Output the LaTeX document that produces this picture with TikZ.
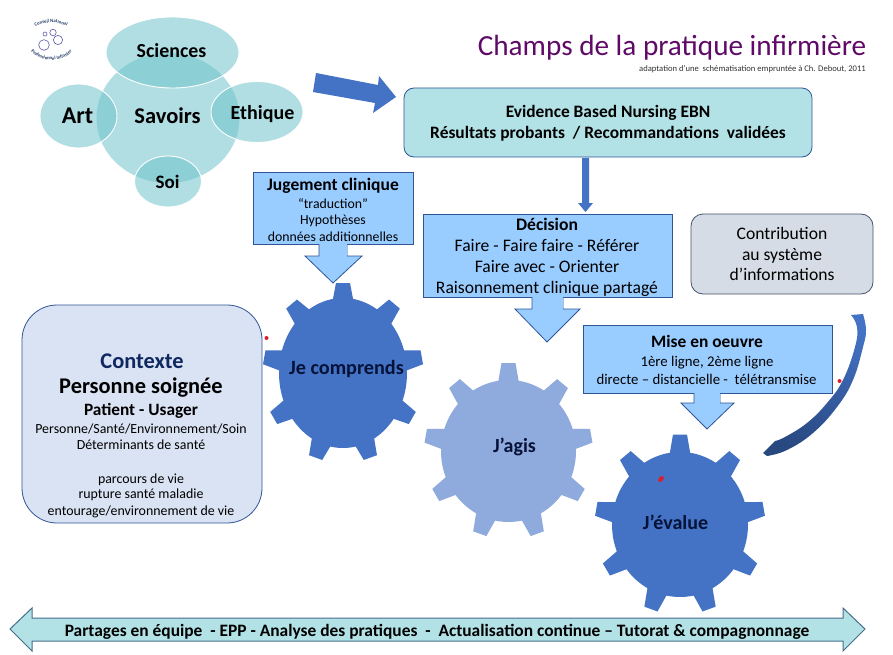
\documentclass[tikz,border=0pt]{standalone}
\usepackage{fontspec}
\setmainfont{Carlito}
\usetikzlibrary{decorations.text}
\definecolor{teal}{RGB}{107,194,202}
\definecolor{boxteal}{RGB}{178,226,230}
\definecolor{callblue}{RGB}{153,204,255}
\definecolor{edgeblue}{RGB}{47,85,151}
\definecolor{gearblue}{RGB}{68,114,196}
\definecolor{gearlight}{RGB}{143,170,220}
\definecolor{ctxfill}{RGB}{218,227,243}
\definecolor{grayfill}{RGB}{214,220,229}
\definecolor{grayedge}{RGB}{68,84,106}
\definecolor{navy}{RGB}{16,40,96}
\definecolor{titlepurple}{RGB}{96,10,104}
\definecolor{gearink}{RGB}{6,18,56}
\definecolor{reddot}{RGB}{222,28,44}
\definecolor{arrowedge}{RGB}{72,110,140}
\newcommand\fs[1]{\fontsize{#1}{#1}\selectfont}
\newcommand\drawgear[7]{%
  \fill[#7] (#1,#2) ellipse [x radius=#3, y radius=#4];
  \foreach \a in {0,40,...,320}{%
    \fill[#7]
      ({#1+0.92*#3*sin(\a)-11*cos(\a)},{#2-0.92*#4*cos(\a)-11*sin(\a)}) --
      ({#1+#5*sin(\a)-7*cos(\a)},{#2-#6*cos(\a)-7*sin(\a)}) --
      ({#1+#5*sin(\a)+7*cos(\a)},{#2-#6*cos(\a)+7*sin(\a)}) --
      ({#1+0.92*#3*sin(\a)+11*cos(\a)},{#2-0.92*#4*cos(\a)+11*sin(\a)}) -- cycle;
  }%
}
\tikzset{
  petal/.style={fill=teal,fill opacity=.526,draw=white,line width=.9pt},
  ln/.style={inner sep=0pt,anchor=base,text=black,yshift=-1pt},
  callout/.style={fill=callblue,draw=edgeblue,line width=.8pt,line join=miter},
  dot/.style={fill=reddot},
}
\begin{document}
\begin{tikzpicture}[x=1pt,y=-1pt]
\useasboundingbox (0,0) rectangle (893,655);
\fill[white] (0,0) rectangle (893,655);
% logo
\draw[gray!70!blue,line width=.6pt] (44,45) circle (5.3) (58,40) circle (4.6) (53,32.5) circle (3.2) (45,34) circle (2);
\path[decorate,decoration={text along path,text={|\fs{4.8}\bfseries\color{edgeblue!70!black}|Conseil National},text align=center}]
  (30,31) .. controls (38,21) and (62,19) .. (72,31);
\path[decorate,decoration={text along path,text={|\fs{4.8}\bfseries\color{edgeblue!70!black}|Professionnel Infirmier},text align=center}]
  (27,45) .. controls (34,64) and (68,66) .. (76,45);
% knowledge cluster
\draw[fill=teal,fill opacity=.526,draw=none] (168,118) ellipse [x radius=71.5,y radius=65];
\draw[petal] (172.5,52.5) ellipse [x radius=66.5,y radius=35.5];
\draw[petal] (78.5,116) ellipse [x radius=38.5,y radius=32];
\draw[petal] (257,112) ellipse [x radius=46,y radius=30.5];
\draw[petal] (168,181.5) ellipse [x radius=33.5,y radius=25.5];
\node[ln,font=\bfseries\fs{19.9}] (sci) at (171.5,57) {Sciences};
\node[ln,font=\bfseries\fs{22.5}] (sav) at (167.5,123) {Savoirs};
\node[ln,font=\bfseries\fs{24}] (art) at (77.5,123) {Art};
\node[ln,font=\bfseries\fs{20}] (eth) at (262.5,119) {Ethique};
\node[ln,font=\bfseries\fs{19}] (soi) at (167.5,188) {Soi};
% title
\node[ln,text=titlepurple,font=\fs{29.2}] (title) at (672,55) {Champs de la pratique infirmière};
\node[ln,anchor=base east,text=black!80,font=\fs{8.6}] (sub) at (866,71) {adaptation d’une\ \ schématisation empruntée à Ch. Debout, 2011};
% arrow to EBN
\fill[gearblue] (316,73) -- (378,85) -- (379,76) -- (396,97) -- (373,113) -- (375,103) -- (313,92) -- cycle;
% EBN
\node[draw=edgeblue,fill=boxteal,line width=.8pt,rounded corners=10pt,minimum width=408pt,minimum height=69pt,inner sep=0pt] (ebnbox) at (608,122.5) {};
\node[ln,font=\bfseries\fs{17.4}] (ebna) at (608,117) {Evidence Based Nursing EBN};
\node[ln,font=\bfseries\fs{17.4}] (ebnb) at (608,138) {Résultats probants\ \ / Recommandations\ \ validées};
% arrow ebn to decision
\fill[gearblue] (582,158) -- (589,158) -- (589,203) -- (593,203) -- (585.5,212) -- (578,203) -- (582,203) -- cycle;
% callouts
\draw[callout] (253,172) rectangle (413,244);
\draw[callout] (319,244) -- (319,256) -- (305,256) -- (333,283) -- (362,256) -- (347,256) -- (347,244);
\fill[callblue] (319.5,243) rectangle (346.5,257);
\node[ln,font=\bfseries\fs{17.5}] (juga) at (333,189) {Jugement clinique};
\node[ln,font=\fs{13.8}] (jugb) at (333,207) {“traduction”};
\node[ln,font=\fs{13.8}] (jugc) at (333,223) {Hypothèses};
\node[ln,font=\fs{13.8}] (jugd) at (333,240) {données additionnelles};
\draw[callout] (423,214) rectangle (672,297);
\draw[callout] (532,297) -- (532,309) -- (515,309) -- (547,342) -- (580,309) -- (563,309) -- (563,297);
\fill[callblue] (532.5,296) rectangle (562.5,310);
\node[ln,font=\bfseries\fs{17.6}] (deca) at (547,229) {Décision};
\node[ln,font=\fs{17.6}] (decb) at (547,250) {Faire - Faire faire - Référer};
\node[ln,font=\fs{17.6}] (decc) at (547,271) {Faire avec - Orienter};
\node[ln,font=\fs{17.6}] (decd) at (547,292) {Raisonnement clinique partagé};
\draw[callout] (583,325) rectangle (832,393);
\draw[callout] (694,393) -- (694,403) -- (681,403) -- (707,429) -- (734,403) -- (720,403) -- (720,393);
\fill[callblue] (694.5,392) rectangle (719.5,404);
\node[ln,font=\bfseries\fs{17.4}] (misa) at (707,346) {Mise en oeuvre};
\node[ln,font=\fs{14.8}] (misb) at (707,365) {1ère ligne, 2ème ligne};
\node[ln,font=\fs{14.8}] (misc) at (706.5,383) {directe – distancielle -\ \ télétransmise};
% contribution
\node[draw=grayedge,fill=grayfill,line width=.8pt,rounded corners=12pt,minimum width=182pt,minimum height=80pt,inner sep=0pt] (contribbox) at (782,254) {};
\node[ln,font=\fs{17.6}] (cona) at (782,238) {Contribution};
\node[ln,font=\fs{17.6}] (conb) at (782,259) {au système};
\node[ln,font=\fs{17.6}] (conc) at (782,279) {d’informations};
% context
\node[draw=edgeblue,fill=ctxfill,line width=.8pt,rounded corners=35pt,minimum width=240pt,minimum height=218pt,inner sep=0pt] (ctxbox) at (142,414) {};
\node[ln,text=navy,font=\bfseries\fs{22.4}] (ctxa) at (142,367) {Contexte};
\node[ln,font=\bfseries\fs{22.4}] (ctxb) at (141,392) {Personne soignée};
\node[ln,font=\bfseries\fs{17.3}] (ctxc) at (141,414) {Patient - Usager};
\node[ln,font=\fs{13.9}] (ctxd) at (141,432) {Personne/Santé/Environnement/Soin};
\node[ln,font=\fs{13.9}] (ctxe) at (141,448) {Déterminants de santé};
\node[ln,font=\fs{13.9}] (ctxf) at (141,482) {parcours de vie};
\node[ln,font=\fs{13.9}] (ctxg) at (141,497) {rupture santé maladie};
\node[ln,font=\fs{13.9}] (ctxh) at (141,514) {entourage/environnement de vie};
% gears
\drawgear{343}{373}{64}{75}{80}{90}{gearblue}
\drawgear{508.5}{451}{67.5}{71}{84}{88}{gearlight}
\drawgear{680}{524.5}{68}{72.5}{85}{90}{gearblue}
\node[ln,text=gearink,font=\bfseries\fs{20.2}] (g1) at (346.5,373) {Je comprends};
\node[ln,text=gearink,font=\bfseries\fs{20}] (g2) at (514.5,451) {J’agis};
\node[ln,text=gearink,font=\bfseries\fs{20}] (g3) at (675.5,528) {J’évalue};
% curved arrow
\path[left color=gearblue,right color=edgeblue!85!black,shading angle=-20] plot[smooth,tension=.7] coordinates {(851,315) (857,327) (855,347) (843,380) (827,403) (807,423) (785,437) (775,441)} -- (763,453)
  -- plot[smooth,tension=.7] coordinates {(767,456) (787,450) (813,433) (837,407) (853,380) (863,347) (866,330) (863,314)} -- cycle;
% red dots
\fill[dot] (266.5,338) circle (2);
\fill[dot] (839.5,381) circle (2);
\fill[dot,rotate around={50:(661,479)}] (661,479) ellipse [x radius=3.5,y radius=2.2];
% bottom double arrow
\draw[fill=boxteal,draw=arrowedge,line width=1pt] (10,629) -- (32,608) -- (32,618) -- (843,618) -- (843,608) -- (865,629) -- (843,651) -- (843,641) -- (32,641) -- (32,651) -- cycle;
\node[ln,font=\bfseries\fs{17.4}] (bottom) at (437,635) {Partages en équipe\ \ - EPP - Analyse des pratiques\ \ -\ \ Actualisation continue – Tutorat \& compagnonnage};
\end{tikzpicture}
\end{document}
